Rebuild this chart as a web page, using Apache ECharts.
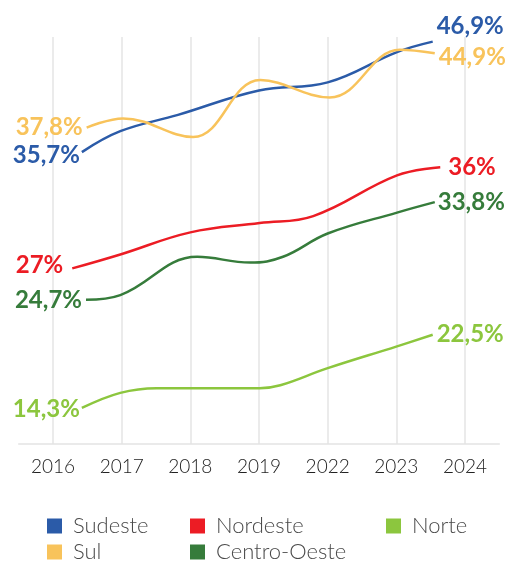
<!DOCTYPE html>
<html>
<head>
<meta charset="utf-8">
<script src="https://cdn.jsdelivr.net/npm/echarts@6/dist/echarts.min.js"></script>
<style>
  html, body { margin: 0; padding: 0; background: #fff; }
  #chart { width: 513px; height: 565px; }
</style>
</head>
<body>
<div id="chart"></div>
<script>
// anos no eixo
const categories = ['2016', '2017', '2018', '2019', '2022', '2023', '2024']

// posição de cada ponto no eixo (índice da categoria) e valor
const sudesteX = [0.42, 0.98, 1.82, 3.0, 4.0, 5.01, 5.53]
const sudesteY = [37.1, 38.9, 40.3, 42.4, 43.1, 45.7, 46.6]

const sulX = [0.49, 1.02, 2.04, 3.02, 4.03, 5.05, 5.56]
const sulY = [39.2, 40.0, 38.4, 43.3, 41.8, 45.9, 45.6]

const nordesteX = [0.28, 0.98, 2.0, 3.01, 3.79, 5.01, 5.64]
const nordesteY = [27.1, 28.3, 30.2, 31.0, 31.6, 35.1, 35.8]

const centroOesteX = [0.48, 0.98, 2.1, 2.87, 3.35, 4.0, 5.01, 5.56]
const centroOesteY = [24.4, 24.8, 28.1, 27.6, 28.1, 30.1, 31.9, 32.8]

const norteX = [0.42, 0.98, 1.51, 3.01, 3.31, 3.99, 5.01, 5.53]
const norteY = [15.1, 16.4, 16.8, 16.8, 17.05, 18.5, 20.4, 21.4]

// rótulos de início e fim
const startLabels = ['35,7%', '37,8%', '27%', '24,7%', '14,3%']
const endLabels = ['46,9%', '44,9%', '36%', '33,8%', '22,5%']

const labelFont = 'Lato, "Open Sans", sans-serif'

function makeSeries(name, xs, ys, color, startText, endText, startOpt, endOpt) {
    let data = xs.map((x, k) => [x, ys[k]])
    data[0] = {
        value: data[0],
        label: {
            show: true,
            position: 'left',
            distance: startOpt.distance,
            offset: startOpt.offset,
            formatter: startText,
            color: color,
            fontSize: 24,
            fontWeight: 'bold',
            fontFamily: labelFont
        }
    }
    return {
        name: name,
        type: 'line',
        xAxisIndex: 1,
        data: data,
        smooth: 0.4,
        showSymbol: true,
        symbol: 'circle',
        symbolSize: 0,
        lineStyle: { color: color, width: 2.5 },
        itemStyle: { color: color },
        emphasis: { disabled: true },
        endLabel: {
            show: true,
            formatter: () => endText,
            distance: endOpt.distance,
            offset: endOpt.offset,
            color: color,
            fontSize: 24,
            fontWeight: 'bold',
            fontFamily: labelFont
        }
    }
}

const colors = {
    sudeste: '#2B5BA8',
    sul: '#F8C35B',
    nordeste: '#EC1C24',
    centroOeste: '#367C3B',
    norte: '#8CC63E'
}

let myChart = echarts.init(document.getElementById('chart'))

function legendAt(name, left, top) {
    return {
        left: left,
        top: top,
        padding: 0,
        data: [name],
        icon: 'rect',
        itemWidth: 15,
        itemHeight: 15,
        selectedMode: false,
        textStyle: {
            color: '#4a4a4a',
            fontSize: 22,
            fontWeight: 300,
            fontFamily: 'Lato, "Open Sans", sans-serif',
            padding: [0, 0, 0, 6]
        }
    }
}

let option = {
    animation: false,
    grid: {
        left: 18.7,
        right: 13.7,
        top: 37,
        bottom: 121
    },
    legend: [
        legendAt('Sudeste', 47, 515),
        legendAt('Sul', 47, 541),
        legendAt('Nordeste', 190, 515),
        legendAt('Centro-Oeste', 190, 541),
        legendAt('Norte', 386, 515)
    ],
    xAxis: [
        {
            type: 'category',
            data: categories,
            boundaryGap: true,
            axisLine: { lineStyle: { color: '#e4e4e4', width: 1.5 } },
            axisTick: { alignWithLabel: true, length: 5, lineStyle: { color: '#e4e4e4', width: 1.5 } },
            splitLine: { show: true, alignWithLabel: true, lineStyle: { color: '#e4e4e4', width: 1.5 } },
            axisLabel: {
                color: '#222',
                fontSize: 19,
                fontWeight: 300,
                fontFamily: 'Lato, "Open Sans", sans-serif',
                margin: 13
            }
        },
        {
            type: 'value',
            min: -0.5,
            max: 6.5,
            show: false
        }
    ],
    yAxis: {
        type: 'value',
        min: 12,
        max: 47,
        show: false
    },
    series: [
        makeSeries('Sudeste', sudesteX, sudesteY, colors.sudeste, startLabels[0], endLabels[0],
            { distance: 2, offset: [0, 3] }, { distance: 4, offset: [0, -15] }),
        makeSeries('Sul', sulX, sulY, colors.sul, startLabels[1], endLabels[1],
            { distance: 4, offset: [0, 0] }, { distance: 4, offset: [0, 4] }),
        makeSeries('Nordeste', nordesteX, nordesteY, colors.nordeste, startLabels[2], endLabels[2],
            { distance: 9, offset: [0, -3] }, { distance: 8, offset: [0, 0] }),
        makeSeries('Centro-Oeste', centroOesteX, centroOesteY, colors.centroOeste, startLabels[3], endLabels[3],
            { distance: 4, offset: [0, 0] }, { distance: 3, offset: [0, 0] }),
        makeSeries('Norte', norteX, norteY, colors.norte, startLabels[4], endLabels[4],
            { distance: 2, offset: [0, 1] }, { distance: 4, offset: [0, 0] })
    ]
}

myChart.setOption(option)
</script>
</body>
</html>
